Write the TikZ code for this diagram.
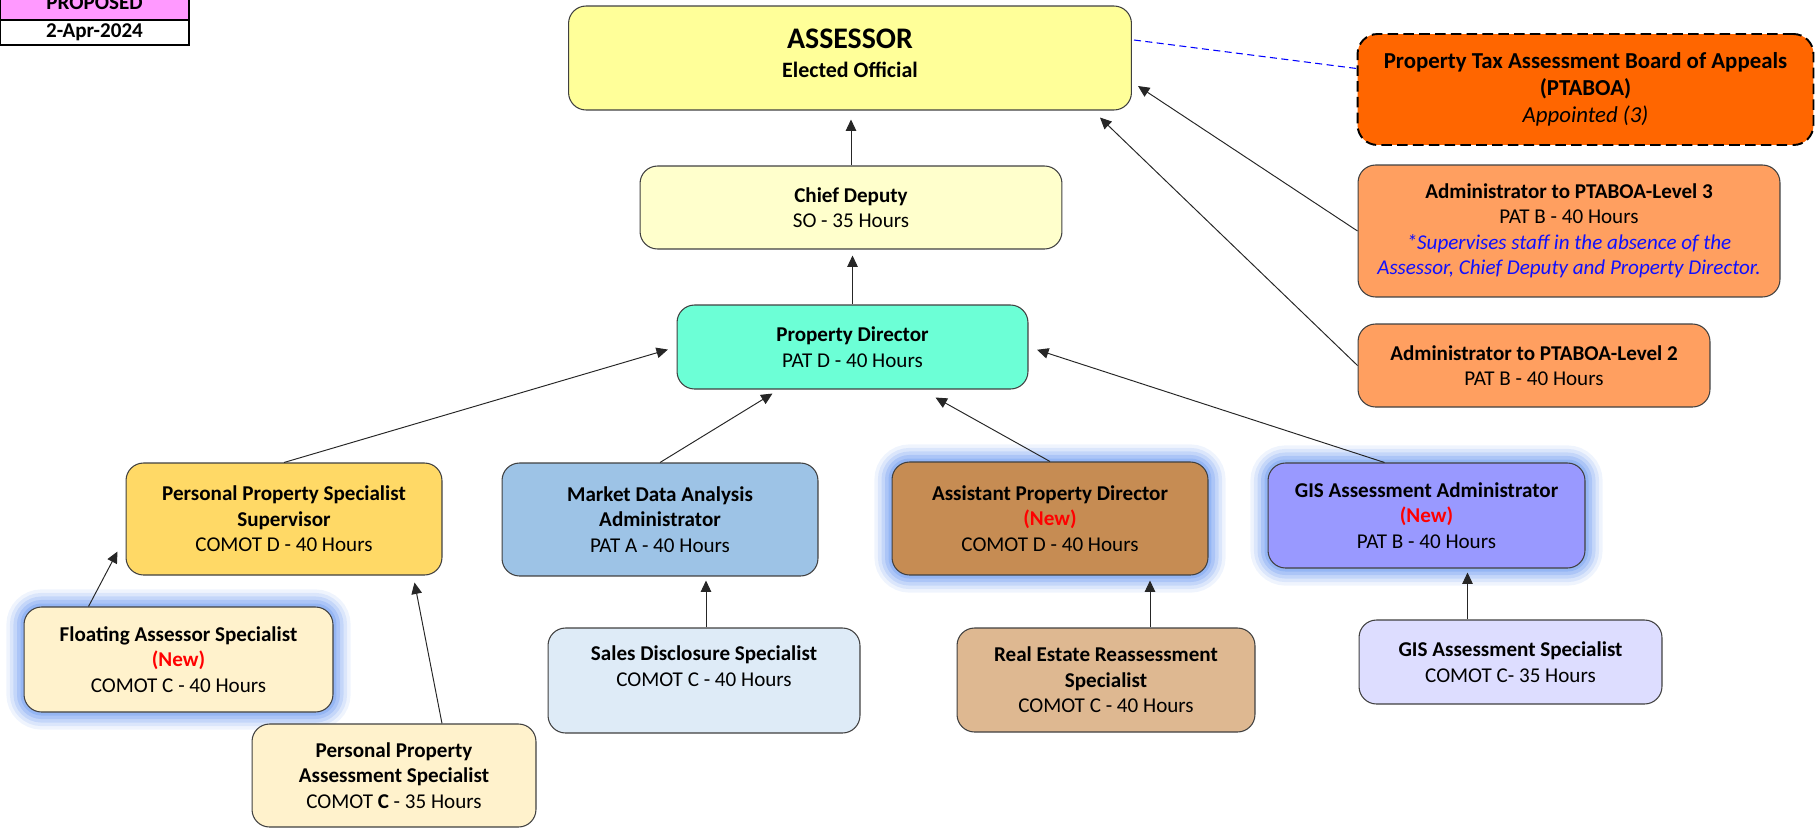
\documentclass[tikz,border=0pt]{standalone}
\usepackage{fontspec}
\setmainfont{Carlito}
\usepackage{xcolor}
\usetikzlibrary{arrows.meta, positioning, calc}
\definecolor{proposedpink}{HTML}{FF99FF}
\definecolor{assessoryellow}{HTML}{FFFF99}
\definecolor{deputyyellow}{HTML}{FFFFCC}
\definecolor{directoraqua}{HTML}{6CFFD6}
\definecolor{ptaboaorange}{HTML}{FF6600}
\definecolor{adminorange}{HTML}{FF9F60}
\definecolor{supervisorgold}{HTML}{FFD966}
\definecolor{marketblue}{HTML}{9DC3E6}
\definecolor{assistantbrown}{HTML}{C68C53}
\definecolor{gisviolet}{HTML}{9999FF}
\definecolor{specialistcream}{HTML}{FFF2CC}
\definecolor{salesblue}{HTML}{DEEBF7}
\definecolor{realestatetan}{HTML}{DEB891}
\definecolor{gislilac}{HTML}{DDDDFF}
\definecolor{glowblue}{HTML}{7EA6F2}
\definecolor{noteblue}{HTML}{1010FF}
\newcommand{\newpos}{\textcolor{red}{\textbf{(New)}}}
\tikzset{
  orgbox/.style={draw=black!75, line width=0.6pt, rounded corners=0.35cm, align=center, inner sep=0pt, font=\fontsize{12}{14.5}\selectfont},
  glowbox/.style={orgbox,
    preaction={draw=glowblue, line width=20pt, opacity=0.12},
    preaction={draw=glowblue, line width=16pt, opacity=0.18},
    preaction={draw=glowblue, line width=12pt, opacity=0.25},
    preaction={draw=glowblue, line width=8pt, opacity=0.35},
    preaction={draw=glowblue, line width=4pt, opacity=0.5}},
  tagbox/.style={draw=black, line width=1.1pt, minimum width=3.78cm, inner sep=0pt, font=\fontsize{12}{14}\selectfont\bfseries},
  arr/.style={draw=black!85, line width=0.55pt, -{Triangle[length=6.5pt,width=6pt]}},
  gap/.style={shorten >=0.18cm},
}
\begin{document}
\begin{tikzpicture}[x=0.02cm, y=-0.02cm]
  \useasboundingbox (0,0) rectangle (1815,829);

  \node (proposed) [tagbox, fill=proposedpink, minimum height=0.72cm] at (94.5,3) {PROPOSED};
  \node (date) [tagbox, fill=white, minimum height=0.5cm] at (94.5,32.5) {2-Apr-2024};

  \node (assessor) [orgbox, fill=assessoryellow, minimum width=11.26cm, minimum height=2.08cm] at (850,58)
    {\textbf{\fontsize{17}{20}\selectfont ASSESSOR}\\[2pt]\textbf{\fontsize{12.5}{15}\selectfont Elected Official}\\[-9pt]~};
  \node (ptaboa) [orgbox, fill=ptaboaorange, draw=black, line width=1.1pt, dash pattern=on 6pt off 3pt, rounded corners=0.4cm, minimum width=9.12cm, minimum height=2.22cm, font=\fontsize{13}{15.5}\selectfont] at (1585.5,89.5)
    {\textbf{Property Tax Assessment Board of Appeals}\\\textbf{(PTABOA)}\\\textit{Appointed (3)}};
  \node (chiefdeputy) [orgbox, fill=deputyyellow, minimum width=8.44cm, minimum height=1.66cm] at (851,207.5)
    {\textbf{Chief Deputy}\\SO - 35 Hours};
  \node (adminthree) [orgbox, fill=adminorange, minimum width=8.44cm, minimum height=2.64cm] at (1569,231)
    {\textbf{Administrator to PTABOA-Level 3}\\PAT B - 40 Hours\\\textcolor{noteblue}{\itshape *Supervises staff in the absence of the}\\\textcolor{noteblue}{\itshape Assessor, Chief Deputy and Property Director.}};
  \node (director) [orgbox, fill=directoraqua, minimum width=7.02cm, minimum height=1.68cm] at (852.5,347)
    {\textbf{Property Director}\\PAT D - 40 Hours};
  \node (admintwo) [orgbox, fill=adminorange, minimum width=7.04cm, minimum height=1.66cm] at (1534,365.5)
    {\textbf{Administrator to PTABOA-Level 2}\\PAT B - 40 Hours};

  \node (supervisor) [orgbox, fill=supervisorgold, minimum width=6.32cm, minimum height=2.24cm] at (284,519)
    {\textbf{Personal Property Specialist}\\\textbf{Supervisor}\\COMOT D - 40 Hours};
  \node (market) [orgbox, fill=marketblue, minimum width=6.32cm, minimum height=2.26cm] at (660,519.5)
    {\textbf{Market Data Analysis}\\\textbf{Administrator}\\PAT A - 40 Hours};
  \node (assistant) [glowbox, fill=assistantbrown, minimum width=6.32cm, minimum height=2.26cm] at (1050,518.5)
    {\textbf{Assistant Property Director}\\\newpos\\COMOT D - 40 Hours};
  \node (gisadmin) [glowbox, fill=gisviolet, minimum width=6.34cm, minimum height=2.1cm] at (1426.5,515.5)
    {\textbf{GIS Assessment Administrator}\\\newpos\\PAT B - 40 Hours};

  \node (floating) [glowbox, fill=specialistcream, minimum width=6.18cm, minimum height=2.1cm] at (178.5,659.5)
    {\textbf{Floating Assessor Specialist}\\\newpos\\COMOT C - 40 Hours};
  \node (sales) [orgbox, fill=salesblue, minimum width=6.24cm, minimum height=2.1cm] at (704,680.5)
    {\textbf{Sales Disclosure Specialist}\\COMOT C - 40 Hours\\[2pt]~};
  \node (realestate) [orgbox, fill=realestatetan, minimum width=5.96cm, minimum height=2.08cm] at (1106,680)
    {\textbf{Real Estate Reassessment}\\\textbf{Specialist}\\COMOT C - 40 Hours};
  \node (gisspec) [orgbox, fill=gislilac, minimum width=6.06cm, minimum height=1.68cm] at (1510.5,662)
    {\textbf{GIS Assessment Specialist}\\COMOT C- 35 Hours};
  \node (ppassess) [orgbox, fill=specialistcream, minimum width=5.68cm, minimum height=2.06cm] at (394,775.5)
    {\textbf{Personal Property}\\\textbf{Assessment Specialist}\\COMOT \textbf{C} - 35 Hours};

  \draw[draw=blue, line width=0.6pt, dash pattern=on 4pt off 2.5pt] ($(assessor.east)+(2,-18)$) -- ($(ptaboa.west)+(0,-21)$);
  \draw[arr] (adminthree.west) -- ($(assessor.east)+(6,28)$);
  \draw[arr] (admintwo.west) -- ($(assessor.south east)+(-32,7)$);
  \draw[arr, gap] (chiefdeputy.north) -- (chiefdeputy.north |- assessor.south);
  \draw[arr, shorten >=0.12cm] (director.north) -- (director.north |- chiefdeputy.south);

  \draw[arr, gap] (supervisor.north) -- (director.west);
  \draw[arr] (market.north) -- ($(director.south)+(-80,4)$);
  \draw[arr] (assistant.north) -- ($(director.south)+(83,8)$);
  \draw[arr, gap] ($(gisadmin.north)+(-42,0)$) -- (director.east);

  \draw[arr] ($(floating.north west)+(65,0)$) -- ($(supervisor.south west)+(-8,-24)$);
  \draw[arr] ($(ppassess.north)+(48,0)$) -- ($(supervisor.south east)+(-28,7)$);
  \coordinate (salesup) at ($(sales.north)+(2,0)$);
  \draw[arr, shorten >=0.08cm] (salesup) -- (salesup |- market.south);
  \coordinate (realup) at ($(realestate.north)+(44,0)$);
  \draw[arr, shorten >=0.1cm] (realup) -- (realup |- assistant.south);
  \coordinate (gisup) at ($(gisspec.north)+(-43,0)$);
  \draw[arr, shorten >=0.08cm] (gisup) -- (gisup |- gisadmin.south);
\end{tikzpicture}
\end{document}
